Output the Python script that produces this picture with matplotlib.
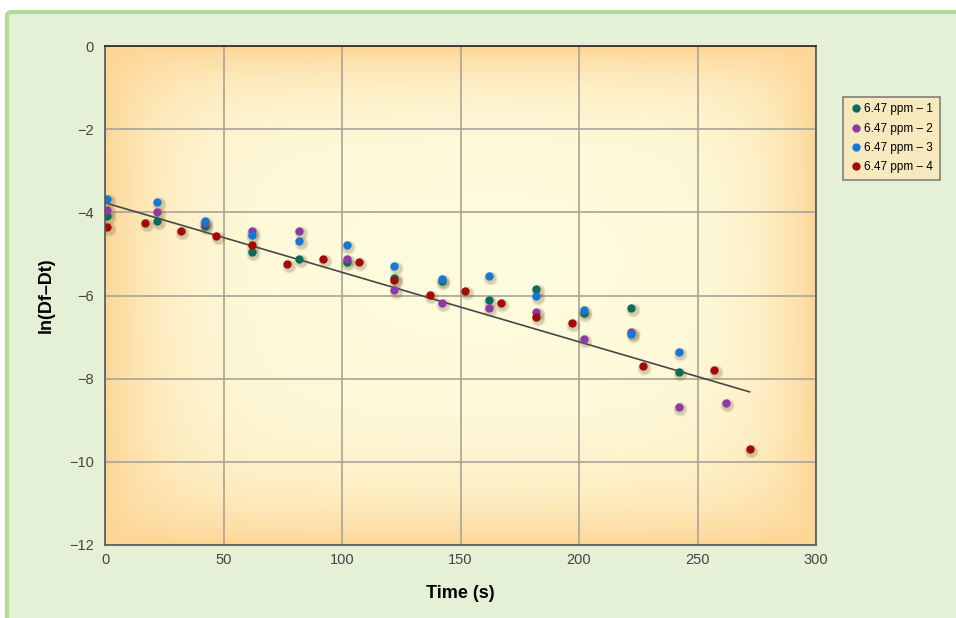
import numpy as np
import matplotlib
matplotlib.use("Agg")
import matplotlib.pyplot as plt
from matplotlib.patches import FancyBboxPatch
from matplotlib.lines import Line2D
import matplotlib.transforms as mtransforms

plt.rcParams['font.family'] = ['Liberation Sans', 'DejaVu Sans']

# ---- data ----
t1 = [1, 22, 42, 62, 82, 102, 122, 142, 162, 182, 202, 222, 242]
y1 = [-4.09, -4.21, -4.34, -4.96, -5.13, -5.20, -5.59, -5.66, -6.11, -5.85, -6.43, -6.30, -7.83]
t2 = [1, 22, 42, 62, 82, 102, 122, 142, 162, 182, 202, 222, 242, 262]
y2 = [-3.94, -3.98, -4.26, -4.44, -4.45, -5.12, -5.87, -6.19, -6.31, -6.39, -7.04, -6.87, -8.69, -8.59]
t3 = [1, 22, 42, 62, 82, 102, 122, 142, 162, 182, 202, 222, 242]
y3 = [-3.69, -3.76, -4.21, -4.54, -4.69, -4.78, -5.28, -5.61, -5.53, -6.00, -6.36, -6.93, -7.36]
t4 = [1, 17, 32, 47, 62, 77, 92, 107, 122, 137, 152, 167, 182, 197, 227, 257, 272]
y4 = [-4.35, -4.25, -4.45, -4.57, -4.78, -5.25, -5.13, -5.20, -5.63, -5.99, -5.89, -6.19, -6.51, -6.65, -7.69, -7.80, -9.70]
series_labels = ['6.47 ppm – 1', '6.47 ppm – 2', '6.47 ppm – 3', '6.47 ppm – 4']
series_colors = ['#0d6b5c', '#8e3aa6', '#1577d6', '#a30a0a']
fit_intercept = -3.77
fit_slope = -0.01672
fit_range = [0, 272]
x_ticks = [0, 50, 100, 150, 200, 250, 300]
y_ticks = [0, -2, -4, -6, -8, -10, -12]

W, H = 956, 618
fig = plt.figure(figsize=(W / 100, H / 100), dpi=100)
fig.patch.set_facecolor('white')

# green panel
panel = FancyBboxPatch((7 / W, -0.01), (W - 7) / W + 0.01, (H - 12) / H + 0.01,
                       boxstyle="round,pad=0,rounding_size=0.006",
                       transform=fig.transFigure, facecolor='#e4f1d6',
                       edgecolor='#b2da96', linewidth=3, zorder=-10)
fig.patches.append(panel)

ax = fig.add_axes([105 / W, 73 / H, 711 / W, 499 / H])

# gradient background
nx, ny = 400, 300
xs = np.linspace(0, 1, nx)
ys = np.linspace(0, 1, ny)
X, Y = np.meshgrid(xs, ys)
px_w, px_h = 711, 499
dxl = X * px_w
dxr = (1 - X) * px_w
dyb = Y * px_h
dyt = (1 - Y) * px_h
wx = np.maximum(np.exp(-dxl / 60.0), np.exp(-dxr / 50.0))
wy = np.maximum(np.exp(-dyb / 55.0), np.exp(-dyt / 40.0))
w = 1 - (1 - wx) * (1 - wy)
w = np.clip(w, 0, 1)
orange = np.array([253, 214, 150]) / 255
pale = np.array([254, 252, 222]) / 255
img = pale[None, None, :] * (1 - w[..., None]) + orange[None, None, :] * w[..., None]
ax.imshow(img, extent=[0, 1, 0, 1], transform=ax.transAxes, aspect='auto',
          zorder=0, origin='lower')

ax.set_xlim(0, 300)
ax.set_ylim(-12, 0)
ax.set_xticks(x_ticks)
ax.set_yticks(y_ticks)
ax.set_yticklabels(['0' if v == 0 else '\u2212' + str(-v) for v in y_ticks])
ax.tick_params(length=0, labelsize=10.5, labelcolor='#444444')
ax.tick_params(axis='y', pad=8)
ax.tick_params(axis='x', pad=6)
ax.grid(True, color='#a8a496', linewidth=1.2, zorder=1)
ax.set_axisbelow(False)
for s in ax.spines.values():
    s.set_color('#555555')
    s.set_linewidth(1.2)
    s.set_zorder(5)
ax.spines['top'].set_color('#222222')

# fit line
tf = np.array(fit_range, dtype=float)
ax.plot(tf, fit_intercept + fit_slope * tf, color='#474747', linewidth=1.2, zorder=3)

shadow = mtransforms.offset_copy(ax.transData, fig=fig, x=1.5, y=-2.0, units='dots')
data = [(t1, y1), (t2, y2), (t3, y3), (t4, y4)]
for (t, y), c in zip(data, series_colors):
    ax.plot(t, y, 'o', color='#6a5a30', alpha=0.15, markersize=10,
            markeredgewidth=0, transform=shadow, zorder=3.4)
    ax.plot(t, y, 'o', color='#6a5a30', alpha=0.15, markersize=8,
            markeredgewidth=0, transform=shadow, zorder=3.5)
for (t, y), c, lab in zip(data, series_colors, series_labels):
    ax.plot(t, y, 'o', color=c, markersize=6, markeredgewidth=0, zorder=4, label=lab)

ax.set_xlabel('Time (s)', fontsize=13, fontweight='bold', labelpad=13)
ax.set_ylabel('ln(Df–Dt)', fontsize=13, fontweight='bold', labelpad=10)

handles = [Line2D([], [], marker='o', linestyle='', color=c, markersize=6,
                  markeredgewidth=0) for c in series_colors]
leg = fig.legend(handles, series_labels, loc='upper left',
                 bbox_to_anchor=(843 / W, 1 - 97 / H), fontsize=8.5,
                 frameon=True, fancybox=False, borderpad=0.55, handletextpad=0.15,
                 handlelength=1.1, labelspacing=0.62, borderaxespad=0)
fr = leg.get_frame()
fr.set_facecolor('#fde7b8')
fr.set_edgecolor('#666666')
fr.set_linewidth(1.2)

fig.savefig('out.png', dpi=100, facecolor=fig.get_facecolor())
